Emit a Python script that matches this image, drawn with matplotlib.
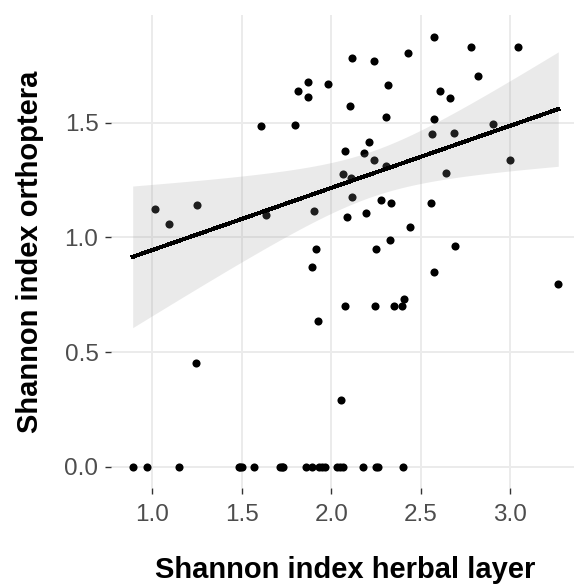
import numpy as np
import matplotlib
matplotlib.use("Agg")
import matplotlib.pyplot as plt

plt.rcParams['font.family'] = ['Liberation Sans', 'DejaVu Sans']

# Shannon diversity per plot: herbal layer (x) vs orthoptera (y)
herb = [2.576, 2.779, 3.045, 2.428, 2.115, 2.238, 2.820, 1.867, 1.980, 2.316,
        1.811, 2.607, 1.867, 2.664, 2.102, 2.303, 2.576, 1.609, 1.799, 2.902,
        2.561, 2.686, 2.213, 2.078, 2.180, 2.236, 2.996, 2.305, 2.066, 2.111,
        2.643, 2.115, 2.279, 2.332, 2.555, 1.016, 1.252, 1.902, 2.191, 1.633,
        2.090, 1.094, 2.441, 2.326, 1.912, 2.248, 2.689, 1.891, 2.576, 3.268,
        2.078, 2.246, 2.348, 2.395, 2.408, 1.926, 1.242, 2.055]
orth = [1.876, 1.832, 1.832, 1.806, 1.782, 1.770, 1.702, 1.678, 1.668, 1.666,
        1.640, 1.640, 1.614, 1.606, 1.572, 1.526, 1.518, 1.484, 1.492, 1.493,
        1.450, 1.456, 1.414, 1.378, 1.370, 1.336, 1.336, 1.313, 1.275, 1.260,
        1.283, 1.178, 1.161, 1.151, 1.151, 1.125, 1.143, 1.117, 1.107, 1.099,
        1.091, 1.057, 1.047, 0.987, 0.951, 0.951, 0.961, 0.873, 0.847, 0.795,
        0.699, 0.699, 0.699, 0.699, 0.733, 0.637, 0.454, 0.290]

# plots where no orthoptera diversity was found
herb_zero = [0.890, 0.970, 1.150, 1.482, 1.492, 1.502, 1.567, 1.712, 1.722, 1.732,
             1.857, 1.890, 1.931, 1.950, 1.965, 2.031, 2.049, 2.063, 2.175, 2.249,
             2.262, 2.399]

# model estimates for the trend line
fit_intercept = 0.674
fit_slope = 0.271

x_ticks = [1.0, 1.5, 2.0, 2.5, 3.0]
y_ticks = [0.0, 0.5, 1.0, 1.5]

hx = np.array(herb)
oy = np.array(orth)
x_all = np.array(herb + herb_zero)
y_all = np.array(orth + [0.0] * len(herb_zero))

# 95% confidence band around the trend line
n = len(hx)
resid = oy - (fit_intercept + fit_slope * hx)
s = np.sqrt(np.sum(resid ** 2) / (n - 2))
t_crit = 2.003  # t(0.975, df = 56)
xs = np.linspace(x_all.min(), x_all.max(), 80)
ys = fit_intercept + fit_slope * xs
se = s * np.sqrt(1 / n + (xs - hx.mean()) ** 2 / np.sum((hx - hx.mean()) ** 2))

fig = plt.figure(figsize=(5.74, 5.87), dpi=100)
ax = fig.add_axes([0.1941, 0.1683, 0.8155, 0.8061])

ax.scatter(x_all, y_all, s=34, color='black', linewidths=0, zorder=3)
ax.fill_between(xs, ys - t_crit * se, ys + t_crit * se, color='#999999',
                alpha=0.2, linewidth=0, zorder=4)
ax.plot(xs, ys, color='black', linewidth=2.2, antialiased=False, zorder=5)

# ggplot-style 5% expansion
xr = x_all.max() - x_all.min()
yr = y_all.max() - y_all.min()
ax.set_xlim(x_all.min() - 0.05 * xr, x_all.max() + 0.05 * xr)
ax.set_ylim(y_all.min() - 0.05 * yr, y_all.max() + 0.05 * yr)

ax.set_xticks(x_ticks)
ax.set_yticks(y_ticks)
ax.set_xticklabels([f"{v:.1f}" for v in x_ticks])
ax.set_yticklabels([f"{v:.1f}" for v in y_ticks])
ax.grid(True, color='#EBEBEB', linewidth=1.4)
ax.set_axisbelow(True)
for sp in ax.spines.values():
    sp.set_visible(False)
ax.tick_params(axis='both', length=4.3, width=1.0, color='#333333',
               labelsize=17.5, labelcolor='#4D4D4D')
ax.tick_params(axis='x', pad=7)
ax.tick_params(axis='y', pad=5)

fig.text(0.6019, 0.0153, "Shannon index herbal layer", ha='center', va='baseline',
         fontsize=21, fontweight='bold')
fig.text(0.052, 0.5714, "Shannon index orthoptera", ha='center', va='center',
         rotation=90, fontsize=21, fontweight='bold')

fig.savefig("out.png", dpi=100)
